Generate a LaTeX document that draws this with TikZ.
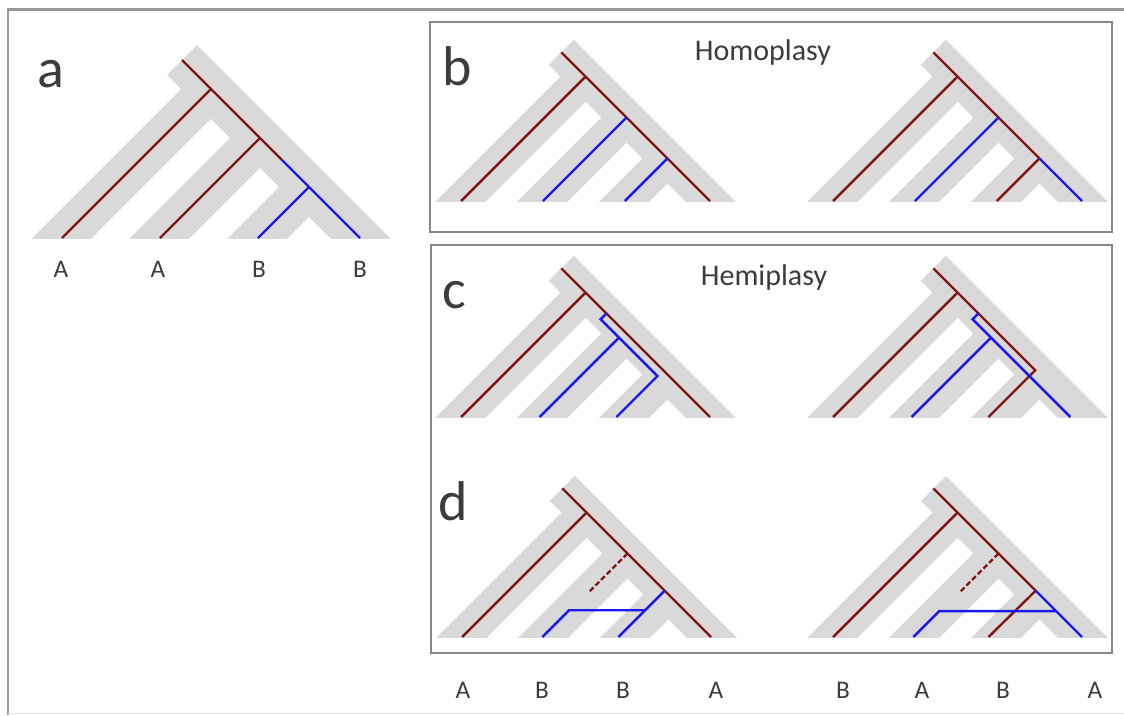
\documentclass[tikz,border=0pt]{standalone}
\usepackage{fontspec}
\setmainfont{Carlito}
\definecolor{sp}{RGB}{217,217,217}
\definecolor{gr}{RGB}{130,20,20}
\definecolor{gb}{RGB}{25,25,235}
\definecolor{frm}{RGB}{135,135,135}
\definecolor{txt}{RGB}{60,60,60}
\tikzset{
  band/.style={draw=sp, line cap=butt},
  gred/.style={draw=gr, line width=1.8pt, line join=miter},
  gblue/.style={draw=gb, line width=1.8pt, line join=miter},
  lostred/.style={draw=gr, line width=1.8pt, dash pattern=on 4pt off 2pt},
  boxframe/.style={draw=frm, line width=1.4pt},
  outerframe/.style={draw=frm!85, line width=2pt},
  plabel/.style={font=\fontsize{42}{42}\selectfont, text=txt, inner sep=0pt, anchor=base},
  leaflab/.style={font=\fontsize{19}{19}\selectfont, text=txt, inner sep=0pt},
  ttl/.style={font=\fontsize{22.5}{22.5}\selectfont, text=txt, inner sep=0pt, anchor=base},
}
% species tree (grey bands) with named coordinates, prefix #1, band width #2
\newcommand{\sptree}[2]{%
  \coordinate (#1R) at (-178,178);
  \coordinate (#1S1) at (-149,149);
  \coordinate (#1S2) at (-100,100);
  \coordinate (#1S3) at (-51,51);
  \coordinate (#1L1) at (-298,0);
  \coordinate (#1L2) at (-200,0);
  \coordinate (#1L3) at (-102,0);
  \coordinate (#1L4) at (0,0);
  \coordinate (#1E1) at (-318,-20);
  \coordinate (#1E2) at (-220,-20);
  \coordinate (#1E3) at (-122,-20);
  \coordinate (#1E4) at (20,-20);
  \begin{scope}
    \clip (-360,0) rectangle (60,230);
    \draw[band, line width=#2] (#1R) -- (#1E4);
    \draw[band, line width=#2] (#1S1) -- (#1E1);
    \draw[band, line width=#2] (#1S2) -- (#1E2);
    \draw[band, line width=#2] (#1S3) -- (#1E3);
  \end{scope}
}
\begin{document}
\begin{tikzpicture}[x=0.75pt,y=-0.75pt]
\useasboundingbox (0,0) rectangle (1124,715);
\fill[white] (0,0) rectangle (1124,715);

% frames
\draw[outerframe] (8,715) -- (8,9.5) -- (1124,9.5);
\draw[draw=frm!25, line width=1pt] (8,713.5) -- (1124,713.5);
\draw[boxframe] (430,22) rectangle (1112,232);
\draw[boxframe] (431,245) rectangle (1112,653);

% ---------- panel a ----------
\begin{scope}[shift={(360,238)}, yscale=-1]
  \sptree{a}{31.8pt}
  \coordinate (aM) at (-78,78);
  \draw[gred] (aR) -- (aS1) -- (aS2) -- (aM);
  \draw[gred] (aS1) -- (aL1);
  \draw[gred] (aS2) -- (aL2);
  \draw[gblue] (aM) -- (aS3) -- (aL4);
  \draw[gblue] (aS3) -- (aL3);
\end{scope}

% ---------- panel b ----------
\begin{scope}[shift={(710,201)}, xscale=0.835, yscale=-0.835]
  \sptree{b}{26.6pt}
  \draw[gred] (bR) -- (bS1) -- (bL4);
  \draw[gred] (bS1) -- (bL1);
  \draw[gblue] (bS2) -- (bL2);
  \draw[gblue] (bS3) -- (bL3);
\end{scope}
\begin{scope}[shift={(1082,201)}, xscale=0.835, yscale=-0.835]
  \sptree{B}{26.6pt}
  \draw[gred] (BR) -- (BS1) -- (BS3);
  \draw[gred] (BS1) -- (BL1);
  \draw[gred] (BS3) -- (BL3);
  \draw[gblue] (BS2) -- (BL2);
  \draw[gblue] (BS3) -- (BL4);
\end{scope}

% ---------- panel c ----------
\begin{scope}[shift={(710,417)}, xscale=0.835, yscale=-0.835]
  \sptree{c}{26.6pt}
  \coordinate (cP0) at (-124,124);
  \coordinate (cP1) at (-131,117);
  \coordinate (cG2) at (-109,95);
  \coordinate (cG3) at (-63,49);
  \coordinate (cX2) at (-204,0);
  \coordinate (cX3) at (-112,0);
  \draw[gred] (cR) -- (cS1) -- (cL4);
  \draw[gred] (cS1) -- (cL1);
  \draw[gblue] (cP0) -- (cP1) -- (cG3) -- (cX3);
  \draw[gblue] (cG2) -- (cX2);
\end{scope}
\begin{scope}[shift={(1082,417)}, xscale=0.835, yscale=-0.835]
  \sptree{C}{26.6pt}
  \coordinate (CP0) at (-124,124);
  \coordinate (CP1) at (-131,117);
  \coordinate (CG2) at (-109,95);
  \coordinate (CQ) at (-56,56);
  \coordinate (CX2) at (-204,0);
  \coordinate (CX3) at (-112,0);
  \coordinate (CX4) at (-14,0);
  \draw[gred] (CR) -- (CS1) -- (CQ) -- (CX3);
  \draw[gred] (CS1) -- (CL1);
  \draw[gblue] (CP0) -- (CP1) -- (CX4);
  \draw[gblue] (CG2) -- (CX2);
\end{scope}

% ---------- panel d ----------
\begin{scope}[shift={(711,637)}, xscale=0.835, yscale=-0.835]
  \sptree{d}{26.6pt}
  \coordinate (dG) at (-55.5,55.5);
  \coordinate (dD) at (-146,54);
  \coordinate (dH1) at (-79,32);
  \coordinate (dH2) at (-170,32);
  \coordinate (dX2) at (-202,0);
  \coordinate (dX3) at (-111,0);
  \draw[gred] (dR) -- (dS1) -- (dL4);
  \draw[gred] (dS1) -- (dL1);
  \draw[lostred] (dS2) -- (dD);
  \draw[gblue] (dG) -- (dX3);
  \draw[gblue] (dH1) -- (dH2) -- (dX2);
\end{scope}
\begin{scope}[shift={(1082,637)}, xscale=0.835, yscale=-0.835]
  \sptree{D}{26.6pt}
  \coordinate (DG) at (-55.5,55.5);
  \coordinate (DD) at (-146,54);
  \coordinate (DH1) at (-31,31);
  \coordinate (DH2) at (-171,31);
  \coordinate (DX2) at (-202,0);
  \coordinate (DX3) at (-112,0);
  \draw[gred] (DR) -- (DS1) -- (DG) -- (DX3);
  \draw[gred] (DS1) -- (DL1);
  \draw[lostred] (DS2) -- (DD);
  \draw[gblue] (DG) -- (DL4);
  \draw[gblue] (DH1) -- (DH2) -- (DX2);
\end{scope}

% ---------- labels ----------
\node[plabel] (la) at (51,87) {a};
\node[plabel] (lb) at (457,85) {b};
\node[plabel] (lc) at (454,308) {c};
\node[plabel] (ld) at (453,520) {d};
\node[ttl] (homo) at (763,60) {Homoplasy};
\node[ttl] (hemi) at (764,285) {Hemiplasy};

\node[leaflab] (a1) at (61,269) {A};
\node[leaflab] (a2) at (158,269) {A};
\node[leaflab] (a3) at (259,269) {B};
\node[leaflab] (a4) at (360,269) {B};

\node[leaflab] (x1) at (463,690) {A};
\node[leaflab] (x2) at (542,690) {B};
\node[leaflab] (x3) at (623,690) {B};
\node[leaflab] (x4) at (716,690) {A};
\node[leaflab] (y1) at (843,690) {B};
\node[leaflab] (y2) at (922,690) {A};
\node[leaflab] (y3) at (1003,690) {B};
\node[leaflab] (y4) at (1095,690) {A};
\end{tikzpicture}
\end{document}
